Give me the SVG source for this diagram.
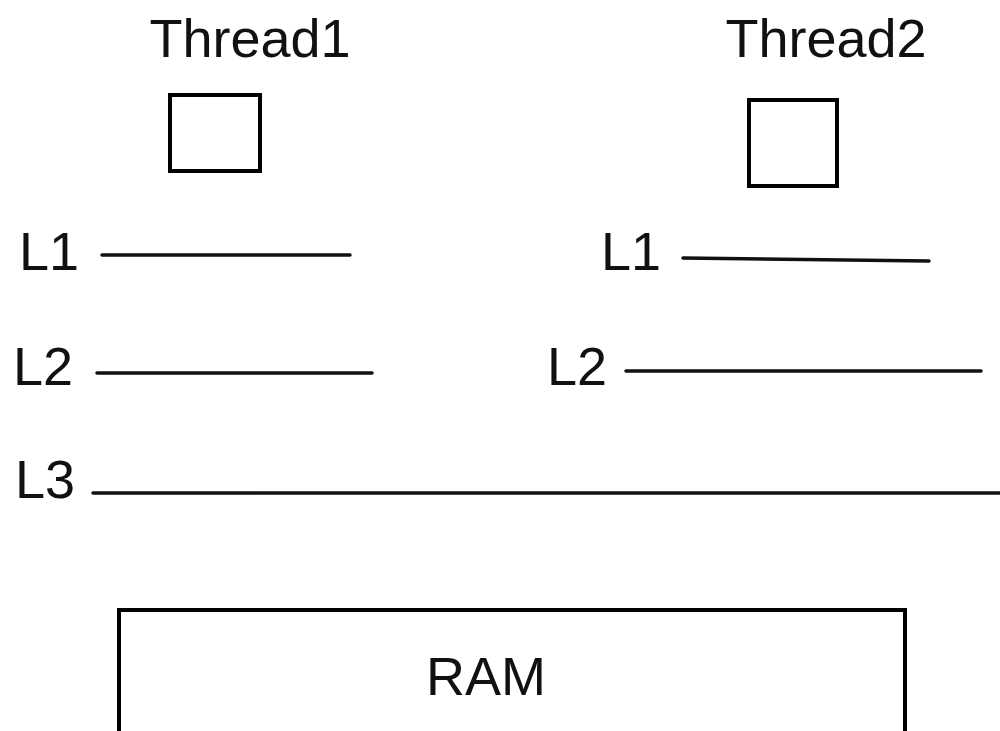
<svg xmlns="http://www.w3.org/2000/svg" width="1000" height="731" viewBox="0 0 1000 731">
<style>
text{font-family:"Liberation Sans",Arial,sans-serif;font-size:54px;fill:#111}
.box{fill:#fff;stroke:#000;stroke-width:4}
.lvl{stroke:#111;stroke-width:3.5;stroke-linecap:round;fill:none}
</style>
<rect width="1000" height="731" fill="#fff"/>
<g id="thread1">
<text x="250" y="57" text-anchor="middle">Thread1</text>
<rect class="box" x="170" y="95" width="90" height="76"/>
</g>
<g id="thread2">
<text x="826" y="57" text-anchor="middle">Thread2</text>
<rect class="box" x="749" y="100" width="88" height="86"/>
</g>
<g id="levels-left">
<text x="19" y="270">L1</text>
<text x="13" y="385">L2</text>
<text x="15" y="498">L3</text>
</g>
<g id="levels-right">
<text x="601" y="270">L1</text>
<text x="547" y="385">L2</text>
</g>
<g id="ram">
<rect class="box" x="119" y="610" width="786" height="140"/>
<text x="486" y="695" text-anchor="middle">RAM</text>
</g>
<g id="connectors">
<line class="lvl" x1="102" y1="255" x2="350" y2="255"/>
<line class="lvl" x1="97" y1="373" x2="372" y2="373"/>
<line class="lvl" x1="93" y1="493" x2="1002" y2="493"/>
<line class="lvl" x1="683" y1="258" x2="929" y2="261"/>
<line class="lvl" x1="626" y1="371" x2="981" y2="371"/>
</g>
</svg>
